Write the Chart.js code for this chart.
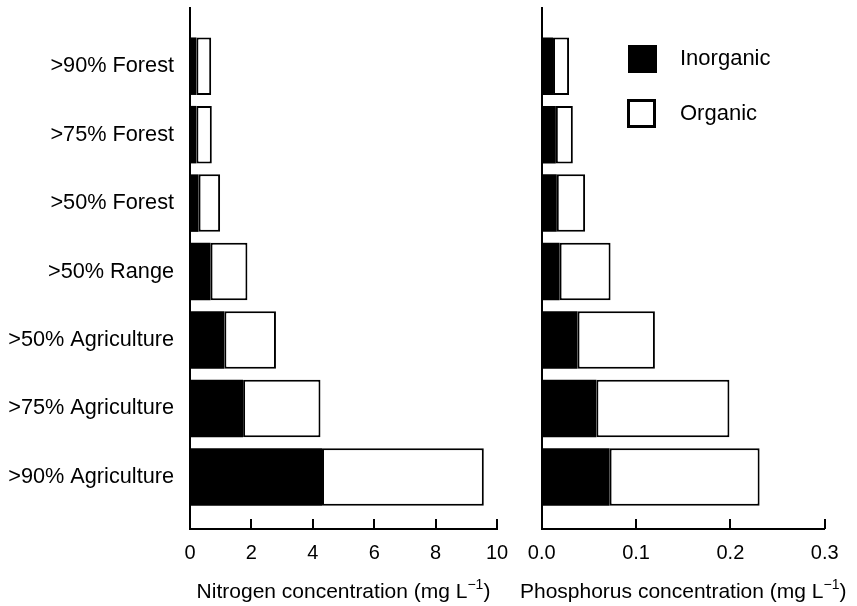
<!DOCTYPE html>
<html>
<head>
<meta charset="utf-8">
<script src="https://cdn.jsdelivr.net/npm/chart.js@4"></script>
<style>
  body { margin: 0; background: #fff; }
  #wrap { position: relative; width: 857px; height: 606px; font-family: "Liberation Sans", Arial, sans-serif; }
  canvas { position: absolute; top: 0; }
  #nChart { left: 0; }
  #pChart { left: 510px; }
  .swatch { position: absolute; box-sizing: border-box; width: 29px; height: 29px; }
  .legText { position: absolute; font-size: 22px; line-height: 22px; color: #000; }
</style>
</head>
<body>
<div id="wrap">
  <canvas id="nChart" width="520" height="606"></canvas>
  <canvas id="pChart" width="347" height="606"></canvas>
  <div class="swatch" style="left:628px; top:45px; height:28px; background:#000;"></div>
  <div class="legText" id="leg0" style="left:680px; top:47px;"></div>
  <div class="swatch" style="left:627px; top:99px; border:3px solid #000; background:#fff;"></div>
  <div class="legText" id="leg1" style="left:680px; top:102px;"></div>
</div>
<script>
const categories = [">90% Forest", ">75% Forest", ">50% Forest", ">50% Range",
  ">50% Agriculture", ">75% Agriculture", ">90% Agriculture"];
const seriesNames = ["Inorganic", "Organic"];

// mg/L
const nitrogenInorganic = [0.21, 0.21, 0.28, 0.67, 1.12, 1.73, 4.30];
const nitrogenOrganic = [0.48, 0.50, 0.70, 1.20, 1.68, 2.52, 5.27];
const phosphorusInorganic = [0.012, 0.015, 0.016, 0.019, 0.038, 0.058, 0.072];
const phosphorusOrganic = [0.017, 0.018, 0.030, 0.054, 0.082, 0.141, 0.159];

const nitrogenTicks = [0, 2, 4, 6, 8, 10];
const phosphorusTicks = [0, 0.1, 0.2, 0.3];

Chart.defaults.color = "#000";
Chart.defaults.font.family = "'Liberation Sans', Arial, sans-serif";

document.getElementById("leg0").textContent = seriesNames[0];
document.getElementById("leg1").textContent = seriesNames[1];

// short tick marks pointing up into the plot + axis title with a real superscript
const axisDeco = {
  id: "axisDeco",
  afterDraw(chart, args, opts) {
    const ctx = chart.ctx, sx = chart.scales.x, bottom = chart.chartArea.bottom;
    ctx.save();
    ctx.strokeStyle = "#000";
    ctx.lineWidth = 2;
    sx.ticks.forEach(t => {
      if (t.value === 0) return;
      const px = Math.round(sx.getPixelForValue(t.value));
      ctx.beginPath();
      ctx.moveTo(px, bottom);
      ctx.lineTo(px, bottom - 10);
      ctx.stroke();
    });

    const fam = "'Liberation Sans', Arial, sans-serif";
    const big = "21px " + fam, small = "14px " + fam;
    ctx.font = big;
    const w1 = ctx.measureText(opts.text).width;
    const w3 = ctx.measureText(")").width;
    ctx.font = small;
    const w2 = ctx.measureText("\u2212" + "1").width;
    let x = (sx.left + sx.right) / 2 - (w1 + w2 + w3) / 2;
    const base = 598;
    ctx.fillStyle = "#000";
    ctx.textBaseline = "alphabetic";
    ctx.textAlign = "left";
    ctx.font = big;
    ctx.fillText(opts.text, x, base);
    x += w1;
    ctx.font = small;
    ctx.fillText("\u2212" + "1", x, base - 9);
    x += w2;
    ctx.font = big;
    ctx.fillText(")", x, base);
    ctx.restore();
  }
};

function makeChart(id, inorg, org, ticks, fmt, title, showLabels, yWidth, padRight) {
  return new Chart(document.getElementById(id), {
    type: "bar",
    data: {
      datasets: [{
        label: seriesNames[0],
        data: inorg.map((v, i) => ({ x: v, y: i })),
        backgroundColor: "#000",
        borderWidth: 0,
        barPercentage: 0.84,
        categoryPercentage: 1
      }, {
        label: seriesNames[1],
        data: org.map((v, i) => ({ x: v, y: i })),
        backgroundColor: "#fff",
        borderColor: "#000",
        borderWidth: 2,
        borderSkipped: false,
        barPercentage: 0.84,
        categoryPercentage: 1
      }]
    },
    options: {
      indexAxis: "y",
      responsive: false,
      animation: false,
      layout: { padding: { top: 8, right: padRight, left: 0, bottom: 0 } },
      plugins: { legend: { display: false }, tooltip: { enabled: false }, axisDeco: { text: title } },
      scales: {
        y: {
          type: "linear",
          reverse: true,
          stacked: true,
          offset: false,
          min: -0.85,
          max: 6.76,
          bounds: "data",
          afterBuildTicks: s => { s.ticks = categories.map((_, i) => ({ value: i })); },
          afterFit: s => { s.width = yWidth; s.paddingTop = 0; s.paddingBottom = 0; },
          grid: { display: false, offset: false, drawTicks: false },
          border: { display: true, color: "#000", width: 2 },
          ticks: {
            display: showLabels,
            autoSkip: false,
            padding: 16,
            font: { size: 21.7 },
            callback: v => categories[v]
          }
        },
        x: {
          stacked: true,
          min: ticks[0],
          max: ticks[ticks.length - 1],
          afterBuildTicks: s => { s.ticks = ticks.map(v => ({ value: v })); },
          afterFit: s => { s.height = 77; s.paddingLeft = 0; s.paddingRight = 0; },
          grid: { display: false, drawTicks: false },
          border: { display: true, color: "#000", width: 2 },
          ticks: { padding: 12, font: { size: 20 }, maxRotation: 0, autoSkip: false, callback: fmt }
        }
      }
    },
    plugins: [axisDeco]
  });
}

makeChart("nChart", nitrogenInorganic, nitrogenOrganic, nitrogenTicks, v => String(v),
  "Nitrogen concentration (mg L", true, 190, 23);
makeChart("pChart", phosphorusInorganic, phosphorusOrganic, phosphorusTicks, v => v.toFixed(1),
  "Phosphorus concentration (mg L", false, 31.7, 32.3);
</script>
</body>
</html>
